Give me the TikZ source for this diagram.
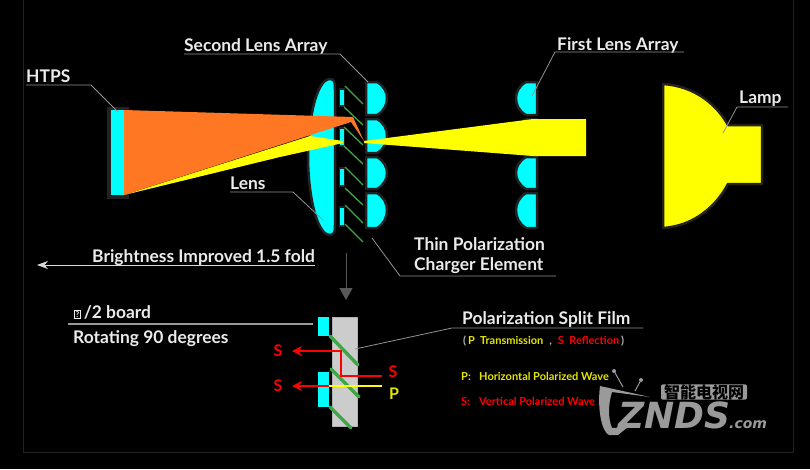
\documentclass[tikz,border=0pt]{standalone}
\usepackage{fontspec}
\setmainfont{Lato}
\newfontfamily\cjk{Noto Sans CJK SC}
\newfontfamily\markfont{DejaVu Sans}
\usetikzlibrary{arrows.meta}
\definecolor{beamorange}{HTML}{FF7722}
\definecolor{beamyellow}{HTML}{FFFF00}
\definecolor{lenscyan}{HTML}{00FFFF}
\definecolor{rayred}{HTML}{FF0000}
\definecolor{noteyellow}{HTML}{E6E600}
\definecolor{filmgreen}{HTML}{3FA648}
\definecolor{rimgray}{HTML}{222222}
\definecolor{markgray}{HTML}{9A9A9A}

\begin{document}
\begin{tikzpicture}[
    x=1pt, y=-1pt,
    rim/.style={draw=rimgray, line width=2.5pt, line join=round},
    lenslet/.style={rim, fill=lenscyan},
    film/.style={draw=filmgreen, line width=1.3pt},
    thickfilm/.style={draw=filmgreen, line width=3.4pt, line cap=round},
    leader/.style={draw=gray!85, line width=0.8pt},
    title/.style={anchor=base west, inner sep=0pt, text=white!92!black, font=\bfseries\fontsize{17.4}{19}\selectfont},
    note/.style={anchor=base west, inner sep=0pt, font=\bfseries\fontsize{11}{13}\selectfont},
    ray/.style={draw=rayred, line width=1.6pt},
    raytip/.style={ray, -{Stealth[length=10pt, width=10pt]}},
    raylabel/.style={inner sep=0pt, font=\bfseries\fontsize{16}{18}\selectfont}
]
\useasboundingbox (0,0) rectangle (810,469);
\fill[black] (0,0) rectangle (810,469);

% Frame
\coordinate (frameA) at (23,0);
\coordinate (frameB) at (23,452);
\coordinate (frameC) at (793,452);
\coordinate (frameD) at (793,0);
\draw[rimgray, line width=0.5pt] (frameA) -- (frameB) -- (frameC) -- (frameD);

% HTPS panel
\fill[rimgray] (107,107) rectangle (129,199);
\fill[lenscyan] (111,110) rectangle (124,195);

% Big lens
\draw[lenslet] (330,79) .. controls (316,79) and (308,122) .. (308,157)
    .. controls (308,192) and (316,235) .. (330,235)
    .. controls (335,235) and (335,230) .. (335,225)
    -- (335,90) .. controls (335,83) and (335,79) .. (330,79) -- cycle;

% Half wave plates
\fill[rimgray] (339,88) rectangle (345,107);
\fill[rimgray] (339,127) rectangle (345,147);
\fill[rimgray] (339,167) rectangle (345,187);
\fill[rimgray] (339,206) rectangle (345,227);
\fill[lenscyan] (340,90) rectangle (343.5,105);
\fill[lenscyan] (340,129) rectangle (343.5,145);
\fill[lenscyan] (340,169) rectangle (343.5,185);
\fill[lenscyan] (340,208) rectangle (343.5,225);

% Green films
\draw[film] (345,86) -- (363,104);
\draw[film] (344,107) -- (363,125);
\draw[film] (344,127) -- (363,145);
\draw[film] (344,146) -- (363,164);
\draw[film] (345,167) -- (363,185);
\draw[film] (345,188) -- (363,205);
\draw[film] (345,205) -- (363,223);
\draw[film] (345,224) -- (363,242);

% Second lens array
\draw[lenslet] (366,82) -- (377,82) .. controls (384,86) and (387,92) .. (387,98) .. controls (387,105) and (384,111) .. (377,115) -- (366,115) -- cycle;
\draw[lenslet] (366,119) -- (377,119) .. controls (384,123) and (387,129) .. (387,136) .. controls (387,143) and (384,149) .. (377,153) -- (366,153) -- cycle;
\draw[lenslet] (366,157) -- (377,157) .. controls (384,161) and (387,167) .. (387,173) .. controls (387,179) and (384,185) .. (377,189) -- (366,189) -- cycle;
\draw[lenslet] (366,193) -- (377,193) .. controls (384,197) and (387,204) .. (387,210) .. controls (387,217) and (384,224) .. (377,228) -- (366,228) -- cycle;

% First lens array
\draw[lenslet] (537,82) -- (526,82) .. controls (519,86) and (516,92) .. (516,98) .. controls (516,105) and (519,111) .. (526,115) -- (537,115) -- cycle;
\draw[lenslet] (537,119) -- (526,119) .. controls (519,123) and (516,129) .. (516,137) .. controls (516,145) and (519,151) .. (526,155) -- (537,155) -- cycle;
\draw[lenslet] (537,157) -- (526,157) .. controls (519,161) and (516,167) .. (516,173) .. controls (516,179) and (519,185) .. (526,189) -- (537,189) -- cycle;
\draw[lenslet] (537,193) -- (526,193) .. controls (519,197) and (516,204) .. (516,210) .. controls (516,217) and (519,224) .. (526,228) -- (537,228) -- cycle;

% Lamp
\draw[rim, fill=beamyellow] (663,84) .. controls (695,86) and (717,105) .. (728,125) -- (762,125) -- (762,184) -- (728,184)
    .. controls (717,205) and (695,226) .. (663,228) -- cycle;

% Beams
\fill[beamyellow] (124,195) -- (310,136) -- (343,141) -- (343,143) -- (280,157) -- cycle;
\fill[beamorange] (124,110) -- (353,117) -- (364,141) -- (351,122) -- (124,195) -- cycle;
\fill[beamyellow] (364,141) -- (533,119) -- (586,119) -- (586,156) -- (533,156) -- (364,143) -- cycle;

% Upper labels
\node[title] (htps) at (26,82) {HTPS};
\node[title] (second) at (184,51) {Second Lens Array};
\node[title] (first) at (557,50) {First Lens Array};
\node[title] (lamp) at (739,103) {Lamp};
\node[title] (lens) at (230,189) {Lens};
\node[title] (thinA) at (414,250) {Thin Polarization};
\node[title] (thinB) at (414,270) {Charger Element};
\node[title] (bright) at (92,262) {Brightness Improved 1.5 fold};

% Leaders
\coordinate (htpsA) at (26,85);
\coordinate (htpsB) at (91,85);
\coordinate (htpsC) at (118,112);
\draw[leader] (htpsA) -- (htpsB) -- (htpsC);
\coordinate (secondA) at (184,54);
\coordinate (secondB) at (340,54);
\coordinate (secondC) at (368,82);
\draw[leader] (secondA) -- (secondB) -- (secondC);
\coordinate (firstA) at (684,52);
\coordinate (firstB) at (555,52);
\coordinate (firstC) at (532,96);
\draw[leader] (firstA) -- (firstB) -- (firstC);
\coordinate (lampA) at (788,107);
\coordinate (lampB) at (737,107);
\coordinate (lampC) at (723,133);
\draw[leader] (lampA) -- (lampB) -- (lampC);
\coordinate (lensA) at (230,192);
\coordinate (lensB) at (293,192);
\coordinate (lensC) at (323,220);
\draw[leader] (lensA) -- (lensB) -- (lensC);
\coordinate (thinC) at (556,276);
\coordinate (thinD) at (400,276);
\coordinate (thinE) at (372,238);
\draw[leader] (thinC) -- (thinD) -- (thinE);
\coordinate (brightA) at (315,265);
\coordinate (brightB) at (37,265);
\draw[leader, white!85!black, -{Stealth[length=11pt, width=8pt]}] (brightA) -- (brightB);
\coordinate (downA) at (346,253);
\coordinate (downB) at (346,300);
\draw[draw=gray!70!black, line width=1pt, -{Stealth[length=12pt, width=13pt, inset=0pt]}] (downA) -- (downB);

% Polarization detail
\fill[gray!40, draw=gray!60, line width=0.5pt] (332,317) rectangle (357,426);
\fill[lenscyan] (318,317) rectangle (329,336);
\fill[lenscyan] (318,372) rectangle (329,407);
\draw[thickfilm] (330,336) -- (358,365);
\draw[thickfilm] (331,369) -- (359,397);
\draw[thickfilm] (330,407) -- (351,428);

% Rays
\node[raylabel, text=rayred] (sout1) at (278,351) {S};
\node[raylabel, text=rayred] (sout2) at (278,386) {S};
\node[raylabel, text=rayred] (sin) at (393,372) {S};
\node[raylabel, text=noteyellow] (pin) at (394,394) {P};
\coordinate (sstart) at (382,376);
\coordinate (sbendA) at (341,376);
\coordinate (sbendB) at (341,351);
\coordinate (send) at (292,351);
\coordinate (pstart) at (382,386);
\coordinate (pmid) at (329,386);
\coordinate (pend) at (292,386);
\draw[raytip] (sstart) -- (sbendA) -- (sbendB) -- (send);
\draw[draw=beamyellow, line width=1.6pt] (pstart) -- (pmid);
\draw[raytip] (pmid) -- (pend);

% Lower labels
\node[title] (board) at (74,318) {\raisebox{1pt}{\setlength{\fboxsep}{0.8pt}\setlength{\fboxrule}{0.7pt}\fbox{\fontsize{8}{8}\selectfont ?}}\,/2 board};
\node[title] (rotate) at (73,343) {Rotating 90 degrees};
\coordinate (boardA) at (68,324);
\coordinate (boardB) at (313,324);
\draw[draw=gray!80, line width=1.3pt] (boardA) -- (boardB);
\node[title] (split) at (462,324) {Polarization Split Film};
\coordinate (splitA) at (643,328);
\coordinate (splitB) at (452,328);
\coordinate (splitC) at (355,349);
\draw[leader] (splitA) -- (splitB) -- (splitC);

\node[note] (trans) at (463,344) {\textcolor{white!70!black}{(}\,\textcolor{noteyellow}{P\ \ Transmission}\hspace{6pt}\textcolor{white!70!black}{,}\hspace{6pt}\textcolor{rayred}{S\ \ Reflection}\,\textcolor{white!70!black}{)}};
\node[note, text=noteyellow] (pkey) at (461,380) {P:};
\node[note, text=noteyellow] (pwave) at (479,380) {Horizontal Polarized Wave};
\node[note, text=rayred] (skey) at (461,405) {S:};
\node[note, text=rayred] (swave) at (479,405) {Vertical Polarized Wave};

% Watermark
\fill[markgray] (600,386) -- (650,397) -- (612,392) .. controls (608,405) and (608,418) .. (612,428) -- (628,427) -- (618,435) -- (609,435) .. controls (602,432) and (597,410) .. (600,386) -- cycle;
\coordinate (antA) at (614,371);
\coordinate (antB) at (623,387);
\coordinate (antC) at (641,380);
\coordinate (antD) at (635,391);
\draw[markgray, line width=1pt] (antA) -- (antB);
\draw[markgray, line width=1pt] (antC) -- (antD);
\fill[markgray] (antA) circle (2pt);
\fill[markgray] (antC) circle (2pt);
\node[fill=markgray, rounded corners=2pt, inner xsep=3pt, inner ysep=0pt, text=black, font=\cjk\bfseries\fontsize{16}{16}\selectfont] (brand) at (704,392) {智能电视网};
\node[anchor=base west, inner sep=0pt, text=markgray, font=\markfont\bfseries\itshape\fontsize{36}{36}\selectfont] (znds) at (618,428) {ZNDS};
\node[anchor=base west, inner sep=0pt, text=markgray, font=\markfont\bfseries\itshape\fontsize{14}{14}\selectfont] (dotcom) at (729,428) {.com};

\end{tikzpicture}
\end{document}
